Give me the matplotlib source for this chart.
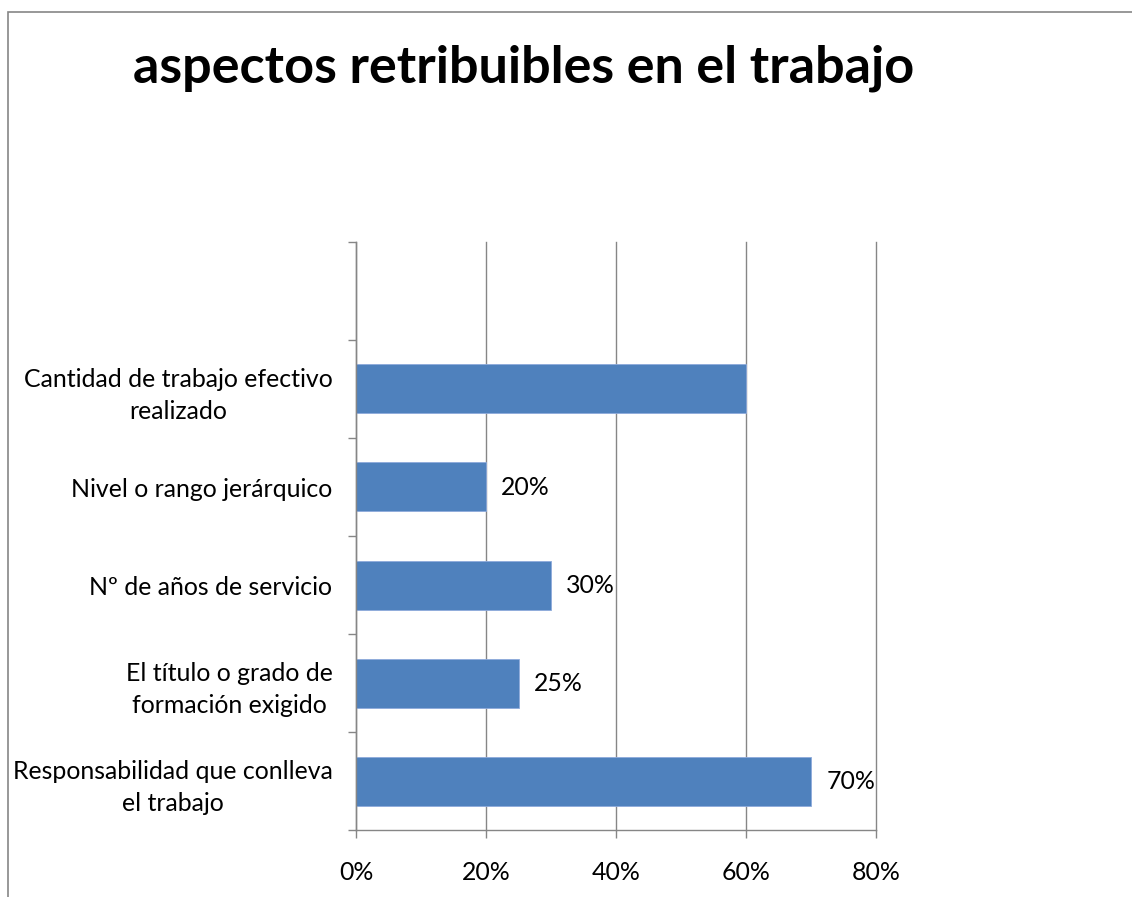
import numpy as np
import matplotlib.pyplot as plt
from matplotlib.patches import Rectangle

plt.rcParams['font.family'] = ['Lato', 'DejaVu Sans']

# categories from bottom to top (the top slot is empty in the original)
categories = ["Responsabilidad que conlleva\nel trabajo",
              "El título o grado de\nformación exigido",
              "Nº de años de servicio",
              "Nivel o rango jerárquico",
              "Cantidad de trabajo efectivo\nrealizado",
              ""]
values = [70, 25, 30, 20, 60, np.nan]
show_label = [True, True, True, True, False, False]
xticks = [0, 20, 40, 60, 80]

grey = "#868686"
blue = "#4F81BD"
fs = 17.9

fig = plt.figure(figsize=(11.32, 8.97), dpi=100)
ax = fig.add_axes([356 / 1132, 67 / 897, 520 / 1132, 588 / 897])

y = np.arange(len(categories))
ax.barh(y, values, height=0.5, color=blue, edgecolor="#8EAADB", linewidth=0.6, zorder=3)

for yi, v, show in zip(y, values, show_label):
    if show:
        ax.annotate(f"{v:.0f}%", (v, yi), xytext=(11, 0), textcoords="offset points",
                    va="center", ha="left", fontsize=fs)

ax.set_xlim(0, 80)
ax.set_ylim(-0.5, len(categories) - 0.5)
ax.set_xticks(xticks)
ax.set_xticklabels([f"{t}%" for t in xticks], fontsize=fs)
ax.set_yticks(np.arange(len(categories) + 1) - 0.5, minor=False)
ax.set_yticklabels([])
ax.set_yticks(y, minor=True)
ax.set_yticklabels(categories, minor=True, fontsize=fs, multialignment="center", linespacing=1.45)
ax.tick_params(axis="y", which="minor", length=0, pad=17)
ax.tick_params(axis="y", which="major", length=6, color=grey, width=1)
ax.tick_params(axis="x", length=6, color=grey, width=1, pad=16)

ax.xaxis.grid(True, color=grey, linewidth=1)
for gl in ax.get_xgridlines():
    gl.set_clip_on(False)
ax.set_axisbelow(True)
for side in ["top", "right"]:
    ax.spines[side].set_visible(False)
for side in ["left", "bottom"]:
    ax.spines[side].set_color(grey)
    ax.spines[side].set_linewidth(1)
    ax.spines[side].set_zorder(4)

fig.text(524 / 1132, 1 - 68 / 897, "aspectos retribuibles en el trabajo",
         ha="center", va="center", fontsize=37.5, fontweight="bold")

fig.patches.append(Rectangle((8 / 1132, -0.1), 1.2, 1.1 - 12 / 897, transform=fig.transFigure,
                             fill=False, edgecolor=grey, linewidth=1.2))

fig.savefig("out.png", dpi=100)
